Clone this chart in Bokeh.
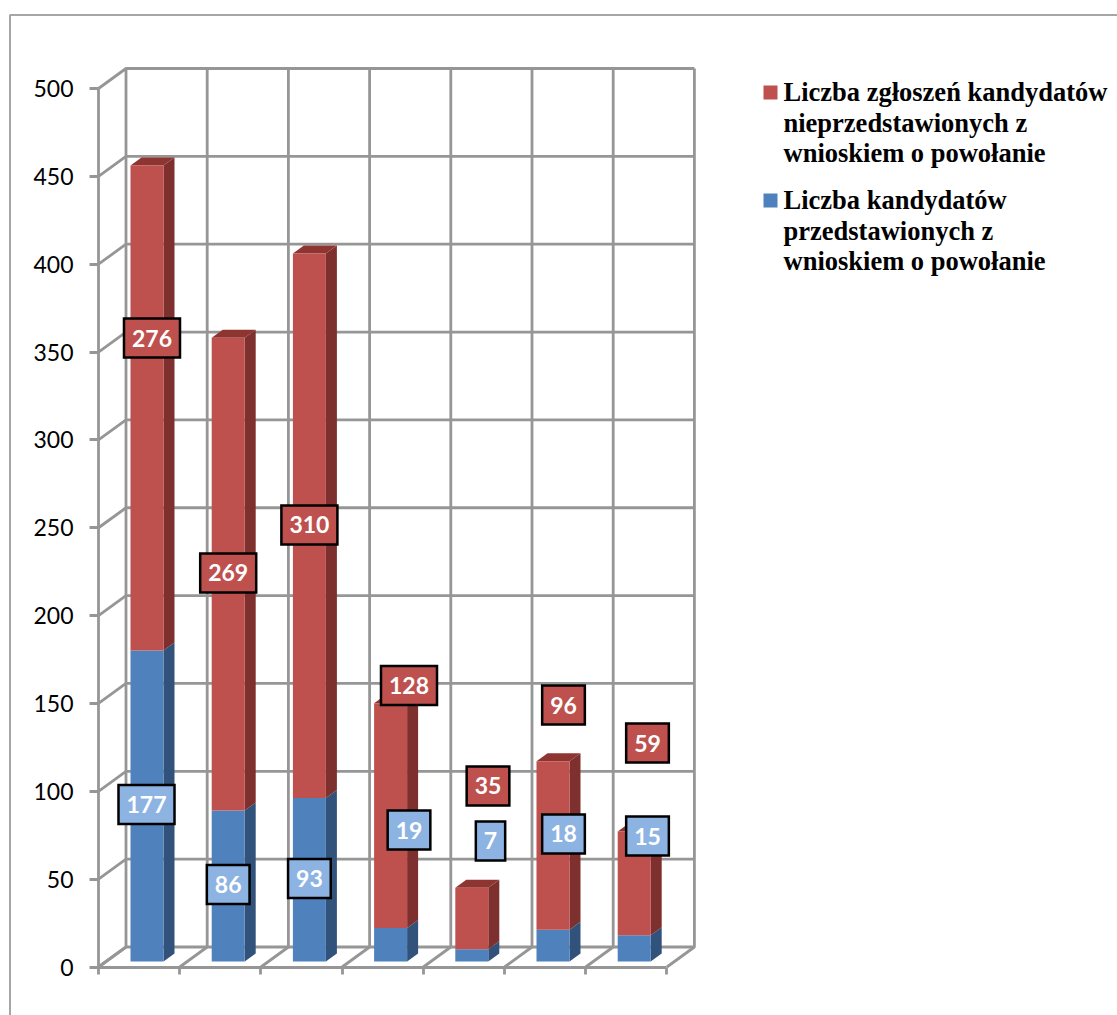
from bokeh.embed import file_html
from bokeh.resources import INLINE
from bokeh.plotting import figure
from bokeh.models import ColumnDataSource, FixedTicker, Range1d
from bokeh.core.properties import value

# ---- data ----
blue_values = [177, 86, 93, 19, 7, 18, 15]
red_values = [276, 269, 310, 128, 35, 96, 59]
y_ticks = [0, 50, 100, 150, 200, 250, 300, 350, 400, 450, 500]
legend_red = ["Liczba zgłoszeń kandydatów", "nieprzedstawionych z", "wnioskiem o powołanie"]
legend_blue = ["Liczba kandydatów", "przedstawionych z", "wnioskiem o powołanie"]

# ---- layout (pixels on the page) ----
PAGE_W, PAGE_H = 1117, 1015
MARGIN = 0
X0_PX, Y0_PX = 98.0, 966.5      # front origin of the 3D box
UX, UY = 81.2, 878.5 / 500      # px per category, px per value
WALL_DX, WALL_DY = 27.5, 20.0   # depth of the box
BAR_X, BAR_DY = 32.0, 5.5       # front-left of bar within its slot, lift of the base
BAR_W = 33.0
BAR_DX, BAR_TOP_DY = 11.0, 8.0  # depth of a bar
# hand-placed data labels: shift (px) from the centre of their segment
blue_label_dx = [-0.5, 0, 0, 18.4, 18.7, 10.5, 13.3]
blue_label_dy = [-1.5, -1.4, -1.3, -114.8, -114.4, -111.7, -112.3]
red_label_dx = [5, 0, 0, 18.4, 16.2, 10.5, 13.3]
red_label_dy = [-70, -1.1, -0.8, -130.2, -132.5, -140.5, -140.3]

GRID = "#969696"
RED, RED_SIDE, RED_TOP = "#BE504D", "#7E302E", "#8E3532"
BLUE, BLUE_SIDE = "#4F81BD", "#31527B"
LIGHT_BLUE = "#8DB3E2"


def xd(px):
    return (px - X0_PX) / UX


def yd(py):
    return (Y0_PX - py) / UY


p = figure(
    width=PAGE_W, height=PAGE_H, output_backend="svg", toolbar_location=None,
    x_range=Range1d(xd(MARGIN), xd(MARGIN + PAGE_W)),
    y_range=Range1d(yd(MARGIN + PAGE_H), yd(MARGIN)),
    min_border=0, min_border_left=0, min_border_right=0, min_border_top=0, min_border_bottom=0,
    x_axis_location="below", y_axis_location="left",
)
p.outline_line_color = None
p.grid.visible = False
p.background_fill_color = "white"

# outer chart border
p.line([xd(9.5), xd(9.5), xd(1117)], [yd(1015), yd(14.5), yd(14.5)], line_color="#A6A6A6", line_width=2)

dx, dy = WALL_DX / UX, WALL_DY / UY
n = len(blue_values)

# walls and floor of the 3D box
xs, ys = [], []
for v in y_ticks:
    xs.append([0, dx, n + dx])
    ys.append([v, v + dy, v + dy])
for k in range(n + 1):
    xs.append([k, k + dx, k + dx])
    ys.append([0, dy, y_ticks[-1] + dy])
p.multi_line(xs, ys, line_color=GRID, line_width=2.8)

# stacked bars
bx = BAR_X / UX
bw = BAR_W / UX
bdx = BAR_DX / UX
bdy = BAR_TOP_DY / UY
lift = BAR_DY / UY
lefts = [i + bx for i in range(n)]
rights = [l + bw for l in lefts]
blue_tops = [lift + b for b in blue_values]
red_tops = [lift + b + r for b, r in zip(blue_values, red_values)]


def side(x, b, t):
    return [x, x + bdx, x + bdx, x], [b, b + bdy, t + bdy, t]


sb = [side(x, lift, t) for x, t in zip(rights, blue_tops)]
sr = [side(x, b, t) for x, b, t in zip(rights, blue_tops, red_tops)]
p.patches([s[0] for s in sb], [s[1] for s in sb], fill_color=BLUE_SIDE, line_color=None)
p.patches([s[0] for s in sr], [s[1] for s in sr], fill_color=RED_SIDE, line_color=None)
p.patches([[l, l + bdx, r + bdx, r] for l, r in zip(lefts, rights)],
          [[t, t + bdy, t + bdy, t] for t in red_tops], fill_color=RED_TOP, line_color=None)
p.quad(left=lefts, right=rights, bottom=lift, top=blue_tops, fill_color=BLUE, line_color=None)
p.quad(left=lefts, right=rights, bottom=blue_tops, top=red_tops, fill_color=RED, line_color=None)

# data labels
centres = [(l + r) / 2 for l, r in zip(lefts, rights)]
blue_src = ColumnDataSource(dict(
    x=centres, y=[lift + b / 2 for b in blue_values], t=[str(v) for v in blue_values],
    xo=blue_label_dx, yo=blue_label_dy))
red_src = ColumnDataSource(dict(
    x=centres, y=[lift + b + r / 2 for b, r in zip(blue_values, red_values)], t=[str(v) for v in red_values],
    xo=red_label_dx, yo=red_label_dy))
for src, fill in ((blue_src, LIGHT_BLUE), (red_src, RED)):
    p.text("x", "y", text="t", x_offset="xo", y_offset="yo", source=src,
           text_color="white", text_font=value("Lato"), text_font_style="bold",
           text_font_size="23px", text_align="center", text_baseline="middle",
           background_fill_color=fill, border_line_color="black", border_line_width=2.5,
           border_line_join="miter", padding=(8, 11))

# legend
for sw_top, lines, first_base, col in ((85, legend_red, 91.5, RED), (193, legend_blue, 199.5, BLUE)):
    p.quad(left=[xd(763)], right=[xd(777)], top=[yd(sw_top)], bottom=[yd(sw_top + 14)],
           fill_color=col, line_color=None)
    p.text([xd(783)] * 3, [yd(first_base + j * 30.7) for j in range(3)], text=lines,
           text_font=value("Liberation Serif"), text_font_style="bold", text_font_size="26.5px",
           text_color="black", text_baseline="alphabetic", text_align="left")

# axes (drawn in the front of the box)
ya = p.yaxis[0]
ya.fixed_location = 0
ya.ticker = FixedTicker(ticks=y_ticks)
ya.bounds = (0, 500)
ya.axis_line_color = GRID
ya.axis_line_width = 2.8
ya.major_tick_line_color = GRID
ya.major_tick_line_width = 2.8
ya.major_tick_out = 9
ya.major_tick_in = 0
ya.minor_tick_line_color = None
ya.major_label_standoff = 16
ya.major_label_text_font = "Lato"
ya.major_label_text_font_size = "23px"
ya.major_label_text_color = "black"

xa = p.xaxis[0]
xa.fixed_location = 0
xa.ticker = FixedTicker(ticks=list(range(n + 1)))
xa.bounds = (0, n)
xa.axis_line_color = GRID
xa.axis_line_width = 2.8
xa.major_tick_line_color = GRID
xa.major_tick_line_width = 2.8
xa.major_tick_out = 7
xa.major_tick_in = 0
xa.minor_tick_line_color = None
xa.major_label_overrides = {k: "" for k in range(n + 1)}

open("out.html", "w").write(file_html(p, INLINE))
